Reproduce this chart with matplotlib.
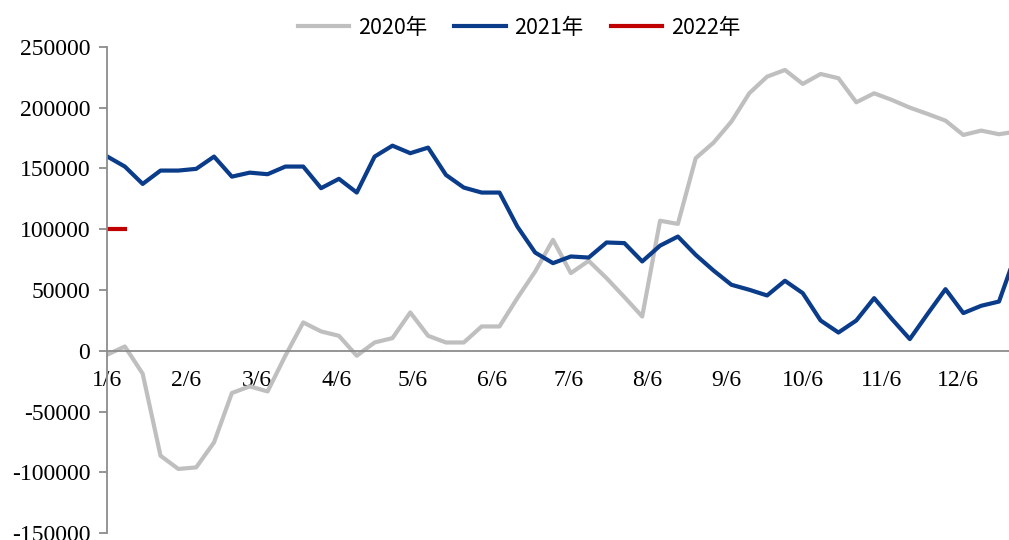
import matplotlib
matplotlib.use('Agg')
import matplotlib.pyplot as plt
import numpy as np

# 周度数据，横轴为自 1/6 起的周序号
y2020 = [-3300, 3500, -18900, -86400, -97300, -96000, -75400, -34800, -29300, -33500,
         -4000, 23300, 15900, 12300, -4100, 6800, 10400, 31500, 12300, 6800,
         6800, 20000, 20000, 43300, 65200, 91300, 63900, 74000, 59800, 44200,
         28200, 107000, 104400, 158500, 171300, 188600, 211900, 225600, 231100, 219600,
         227800, 224300, 204500, 211900, 206400, 200100, 194900, 189400, 177600, 181200,
         178200, 180500]
y2021 = [160000, 151600, 137300, 148300, 148300, 149700, 159800, 143300, 146600, 145300,
         151600, 151600, 133800, 141500, 130200, 159800, 168800, 162600, 167200, 144700,
         134300, 130200, 130200, 102200, 80800, 72100, 77600, 76700, 89100, 88600,
         73500, 86500, 94000, 78900, 66000, 54300, 50200, 45500, 57600, 47400,
         24900, 15000, 24900, 43300, 26000, 9600, 30400, 50700, 31000, 37000,
         40500, 82000]
y2022 = [100000, 100000]

tick_days = [0, 31, 59, 90, 120, 151, 181, 212, 243, 273, 304, 334]
tick_labels = ['1/6', '2/6', '3/6', '4/6', '5/6', '6/6', '7/6', '8/6', '9/6', '10/6', '11/6', '12/6']

plt.rcParams['font.family'] = ['Liberation Serif', 'DejaVu Serif']
plt.rcParams['axes.unicode_minus'] = False

fig = plt.figure(figsize=(10.09, 5.40), dpi=100)
ax = fig.add_axes([107 / 1009, 7 / 540, 1 - 107 / 1009, 486 / 540])

ax.plot(np.arange(len(y2020)), y2020, color='#BFBFBF', lw=3, label='2020年')
ax.plot(np.arange(len(y2021)), y2021, color='#0A3C8A', lw=3, label='2021年')
ax.plot(np.arange(len(y2022)), y2022, color='#C00000', lw=3, label='2022年')

ax.spines['top'].set_visible(False)
ax.spines['right'].set_visible(False)
ax.spines['bottom'].set_position(('data', 0))
ax.spines['bottom'].set_color('#8C8C8C')
ax.spines['left'].set_color('#8C8C8C')
ax.spines['bottom'].set_linewidth(1.3)
ax.spines['left'].set_linewidth(1.3)

ax.set_xlim(0, 50.56)
ax.set_ylim(-150000, 250000)
ax.set_yticks(np.arange(-150000, 250001, 50000))
ax.set_xticks([d / 7 for d in tick_days])
ax.set_xticklabels(tick_labels)

ax.tick_params(axis='x', length=0, pad=14, labelsize=17)
ax.tick_params(axis='y', length=6, width=1.3, color='#8C8C8C', pad=6, labelsize=17)

leg = ax.legend(loc='upper center', bbox_to_anchor=(519 / 1009, 1.005), bbox_transform=fig.transFigure,
                ncol=3, frameon=False, handlelength=2.4, columnspacing=1.25, handletextpad=0.4,
                prop={'family': ['Noto Sans CJK SC', 'DejaVu Sans'], 'size': 15.5})

fig.savefig('out.png', dpi=100)
